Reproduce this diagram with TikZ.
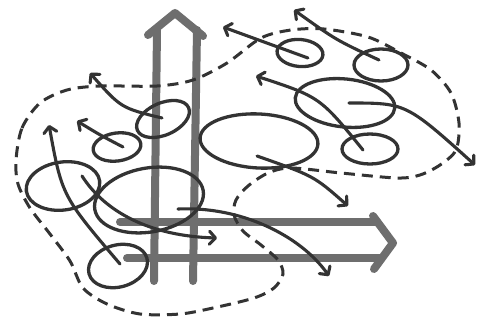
\documentclass[tikz,border=0pt]{standalone}
\usetikzlibrary{shapes.geometric,arrows.meta}
\definecolor{ink}{HTML}{333333}
\definecolor{barc}{HTML}{6e6e6e}
\begin{document}
\begin{tikzpicture}[x=1pt,y=-1pt,
  blob/.style={draw=ink,line width=3.3pt,ellipse,inner sep=0pt,outer sep=0pt},
  flow/.style={draw=ink,line width=3.1pt,line cap=round,-{Straight Barb[length=6pt,width=13pt,round]}},
  barline/.style={draw=barc,line width=8pt,line cap=round,line join=round},
  zone/.style={draw=ink,line width=3pt,dash pattern=on 11pt off 7pt}]
\fill[white] (0,0) rectangle (483,322);
\useasboundingbox (0,0) rectangle (483,322);

% gray double arrows
\coordinate (vbl) at (154,281); \coordinate (vtl) at (157,30);
\coordinate (vbr) at (193,281); \coordinate (vtr) at (197,30);
\coordinate (vsl) at (148,35); \coordinate (vtip) at (175,13); \coordinate (vsr) at (203,36);
\draw[barline] (vbl) -- (vtl);
\draw[barline] (vbr) -- (vtr);
\draw[barline] (vsl) -- (vtip) -- (vsr);
\coordinate (hlt) at (120,222); \coordinate (hrt) at (377,222);
\coordinate (hlb) at (127,258); \coordinate (hrb) at (381,258);
\coordinate (hst) at (373,216); \coordinate (htip) at (393,243); \coordinate (hsb) at (374,269);
\draw[barline] (hlt) -- (hrt);
\draw[barline] (hlb) -- (hrb);
\draw[barline] (hst) -- (htip) -- (hsb);

% dashed zone
\draw[zone] plot[smooth cycle] coordinates {
 (16,160) (22,128) (40,103) (67,90) (100,86) (157,86) (193,80) (227,63)
 (261,38) (291,30) (324,29) (368,37) (401,53) (431,70) (451,93) (459,123)
 (456,150) (440,165) (420,175) (397,178) (341,173) (291,168) (268,173)
 (248,186) (236,200) (234,215) (243,231) (261,245) (278,260) (283,274)
 (274,288) (254,298) (213,308) (180,314) (140,314) (107,304) (83,288)
 (70,261) (50,234) (30,208) (18,184)};

% ellipses
\node[blob,minimum width=56pt,minimum height=32pt,rotate=24] (e1) at (163,119) {};
\node[blob,minimum width=48pt,minimum height=28pt,rotate=8] (e2) at (117,147) {};
\node[blob,minimum width=118pt,minimum height=54pt,rotate=-3] (e3) at (259,141) {};
\node[blob,minimum width=46pt,minimum height=27pt,rotate=-5] (e4) at (300,53) {};
\node[blob,minimum width=54pt,minimum height=32pt] (e5) at (381,65) {};
\node[blob,minimum width=100pt,minimum height=48pt,rotate=-6] (e6) at (345,103) {};
\node[blob,minimum width=56pt,minimum height=30pt] (e7) at (370,149) {};
\node[blob,minimum width=74pt,minimum height=48pt,rotate=8] (e8) at (63,186) {};
\node[blob,minimum width=110pt,minimum height=64pt,rotate=10] (e9) at (149,200) {};
\node[blob,minimum width=60pt,minimum height=42pt,rotate=15] (e10) at (118,266) {};

% arrow end points
\coordinate (sa) at (162,118); \coordinate (ta) at (90,73);
\coordinate (sb) at (123,147); \coordinate (tb) at (77,121);
\coordinate (sc) at (120,264); \coordinate (tc) at (49,125);
\coordinate (sd) at (82,176);  \coordinate (td) at (217,238);
\coordinate (se) at (178,209); \coordinate (te) at (329,276);
\coordinate (sf) at (257,156); \coordinate (tf) at (348,206);
\coordinate (sg) at (349,103); \coordinate (tg) at (475,165);
\coordinate (sh) at (363,150); \coordinate (th) at (256,76);
\coordinate (si) at (379,60);  \coordinate (ti) at (294,10);
\coordinate (sj) at (308,58);  \coordinate (tj) at (223,27);

\draw[flow] (sa) .. controls (121,108) .. (ta);
\draw[flow] (sb) .. controls (100,135) .. (tb);
\draw[flow] (sc) .. controls (62,196) .. (tc);
\draw[flow] (sd) .. controls (105,212) and (150,236) .. (td);
\draw[flow] (se) .. controls (240,206) and (300,235) .. (te);
\draw[flow] (sf) .. controls (314,176) .. (tf);
\draw[flow] (sg) .. controls (406,103) .. (tg);
\draw[flow] (sh) .. controls (320,97) .. (th);
\draw[flow] (si) .. controls (336,40) .. (ti);
\draw[flow] (sj) .. controls (266,43) .. (tj);
\end{tikzpicture}
\end{document}
